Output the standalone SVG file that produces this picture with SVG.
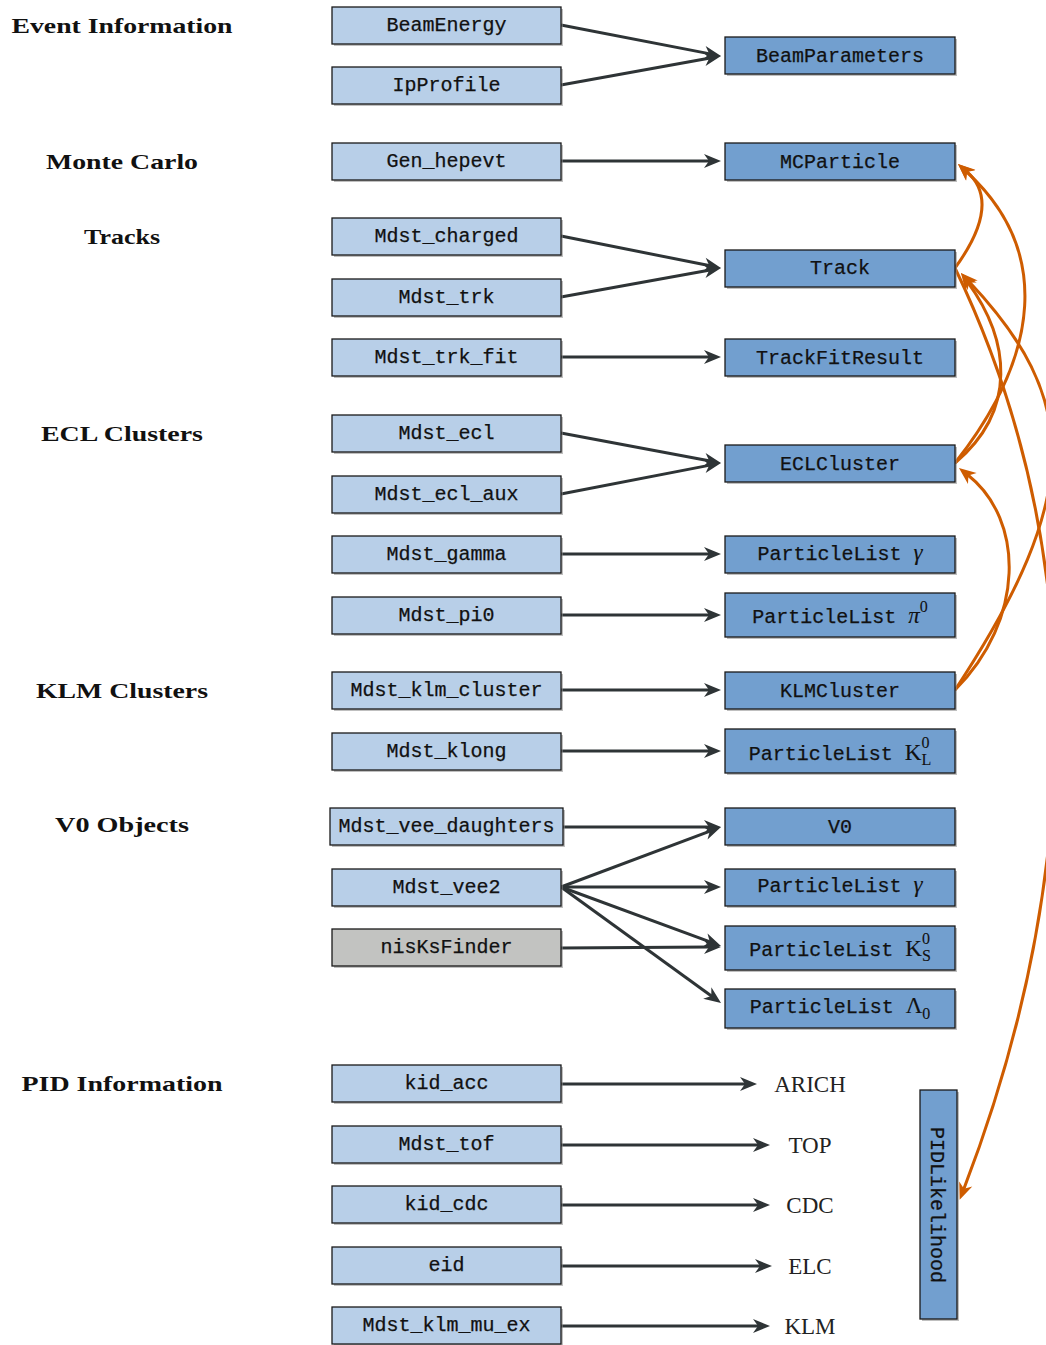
<svg xmlns="http://www.w3.org/2000/svg" width="1046" height="1345" viewBox="0 0 1046 1345">
<style>
.src{fill:#b8cfe8;stroke:#1a1a1a;stroke-width:1.3}
.dst{fill:#729fcf;stroke:#1a1a1a;stroke-width:1.3}
.alg{fill:#c2c3c1;stroke:#1a1a1a;stroke-width:1.3}
.sh{fill:#8a8a8a;opacity:0.55}
.t{font-family:"Liberation Mono","DejaVu Sans Mono",monospace;font-size:20px;fill:#111;text-anchor:middle;stroke:#111;stroke-width:0.25}
.m{font-family:"Liberation Serif",serif;stroke-width:0.1}
.mi{font-family:"Liberation Serif",serif;font-style:italic;stroke-width:0.1}
.lab{font-family:"Liberation Serif",serif;font-weight:bold;font-size:22px;fill:#111;text-anchor:middle}
.det{font-family:"Liberation Serif",serif;font-size:23px;fill:#222;text-anchor:middle}
.c{stroke:#2e3436;stroke-width:3;fill:none;marker-end:url(#ah)}
.o{stroke:#ce5c00;stroke-width:3;fill:none;marker-end:url(#oh)}
</style>
<defs>
<marker id="ah" markerUnits="userSpaceOnUse" markerWidth="20" markerHeight="16" viewBox="0 -8 18 16" refX="6" refY="0" orient="auto">
<path d="M0,-7 L17,0 L0,7 L5,0 z" fill="#2e3436"/>
</marker>
<marker id="oh" markerUnits="userSpaceOnUse" markerWidth="20" markerHeight="16" viewBox="0 -8 18 16" refX="6" refY="0" orient="auto">
<path d="M0,-7 L17,0 L0,7 L5,0 z" fill="#ce5c00"/>
</marker>
</defs>
<rect width="1046" height="1345" fill="#ffffff"/>

<g id="labels">
<text class="lab" x="122" y="33" textLength="221" lengthAdjust="spacingAndGlyphs">Event Information</text>
<text class="lab" x="122" y="169" textLength="152" lengthAdjust="spacingAndGlyphs">Monte Carlo</text>
<text class="lab" x="122" y="244" textLength="76" lengthAdjust="spacingAndGlyphs">Tracks</text>
<text class="lab" x="122" y="441" textLength="162" lengthAdjust="spacingAndGlyphs">ECL Clusters</text>
<text class="lab" x="122" y="698" textLength="172" lengthAdjust="spacingAndGlyphs">KLM Clusters</text>
<text class="lab" x="122" y="832" textLength="134" lengthAdjust="spacingAndGlyphs">V0 Objects</text>
<text class="lab" x="122" y="1091" textLength="201" lengthAdjust="spacingAndGlyphs">PID Information</text>
</g>

<g id="connectors">
<line class="c" x1="561" y1="25" x2="710.2" y2="53.9"/>
<line class="c" x1="561" y1="85" x2="710.2" y2="58"/>
<line class="c" x1="561" y1="161" x2="710" y2="161"/>
<line class="c" x1="561" y1="236" x2="710.2" y2="265.8"/>
<line class="c" x1="561" y1="297" x2="710.2" y2="270"/>
<line class="c" x1="561" y1="357" x2="710" y2="357"/>
<line class="c" x1="561" y1="433" x2="710.2" y2="461"/>
<line class="c" x1="561" y1="494" x2="710.2" y2="465.1"/>
<line class="c" x1="561" y1="554" x2="710" y2="554"/>
<line class="c" x1="561" y1="615" x2="710" y2="615"/>
<line class="c" x1="561" y1="690" x2="710" y2="690"/>
<line class="c" x1="561" y1="751" x2="710" y2="751"/>
<line class="c" x1="563" y1="827" x2="710" y2="827"/>
<line class="c" x1="561" y1="887" x2="710.7" y2="830.9"/>
<line class="c" x1="561" y1="887" x2="710" y2="887"/>
<line class="c" x1="561" y1="887" x2="710.7" y2="942.2"/>
<line class="c" x1="561" y1="887" x2="712.1" y2="996.5"/>
<line class="c" x1="561" y1="948" x2="710" y2="947"/>
<line class="c" x1="561" y1="1084" x2="746" y2="1084"/>
<line class="c" x1="561" y1="1145" x2="759" y2="1145"/>
<line class="c" x1="561" y1="1205" x2="759" y2="1205"/>
<line class="c" x1="561" y1="1266" x2="761" y2="1266"/>
<line class="c" x1="561" y1="1326" x2="759" y2="1326"/>
<path class="o" d="M955,268 C990,220 988,190 966.3,171.2"/>
<path class="o" d="M955,463 C1040,355 1052,250 966.1,171.4"/>
<path class="o" d="M955,463 C1018,410 1010,340 967.5,281.9"/>
<path class="o" d="M955,690 C1085,493 1079,398 968.5,281"/>
<path class="o" d="M955,690 C1025,620 1025,520 967.6,474.8"/>
<path class="o" d="M955,268 C1100,570 1075,900 963.6,1189.6"/>
</g>

<g id="BeamEnergy"><rect class="sh" x="334" y="9" width="229" height="37"/><rect class="src" x="332" y="7" width="229" height="37"/><text class="t" x="446.5" y="31">BeamEnergy</text></g>
<g id="IpProfile"><rect class="sh" x="334" y="69" width="229" height="37"/><rect class="src" x="332" y="67" width="229" height="37"/><text class="t" x="446.5" y="91">IpProfile</text></g>
<g id="Gen_hepevt"><rect class="sh" x="334" y="145" width="229" height="37"/><rect class="src" x="332" y="143" width="229" height="37"/><text class="t" x="446.5" y="167">Gen_hepevt</text></g>
<g id="Mdst_charged"><rect class="sh" x="334" y="220" width="229" height="37"/><rect class="src" x="332" y="218" width="229" height="37"/><text class="t" x="446.5" y="242">Mdst_charged</text></g>
<g id="Mdst_trk"><rect class="sh" x="334" y="281" width="229" height="37"/><rect class="src" x="332" y="279" width="229" height="37"/><text class="t" x="446.5" y="303">Mdst_trk</text></g>
<g id="Mdst_trk_fit"><rect class="sh" x="334" y="341" width="229" height="37"/><rect class="src" x="332" y="339" width="229" height="37"/><text class="t" x="446.5" y="363">Mdst_trk_fit</text></g>
<g id="Mdst_ecl"><rect class="sh" x="334" y="417" width="229" height="37"/><rect class="src" x="332" y="415" width="229" height="37"/><text class="t" x="446.5" y="439">Mdst_ecl</text></g>
<g id="Mdst_ecl_aux"><rect class="sh" x="334" y="478" width="229" height="37"/><rect class="src" x="332" y="476" width="229" height="37"/><text class="t" x="446.5" y="500">Mdst_ecl_aux</text></g>
<g id="Mdst_gamma"><rect class="sh" x="334" y="538" width="229" height="37"/><rect class="src" x="332" y="536" width="229" height="37"/><text class="t" x="446.5" y="560">Mdst_gamma</text></g>
<g id="Mdst_pi0"><rect class="sh" x="334" y="599" width="229" height="37"/><rect class="src" x="332" y="597" width="229" height="37"/><text class="t" x="446.5" y="621">Mdst_pi0</text></g>
<g id="Mdst_klm_cluster"><rect class="sh" x="334" y="674" width="229" height="37"/><rect class="src" x="332" y="672" width="229" height="37"/><text class="t" x="446.5" y="696">Mdst_klm_cluster</text></g>
<g id="Mdst_klong"><rect class="sh" x="334" y="735" width="229" height="37"/><rect class="src" x="332" y="733" width="229" height="37"/><text class="t" x="446.5" y="757">Mdst_klong</text></g>
<g id="Mdst_vee_daughters"><rect class="sh" x="332" y="810" width="233" height="37"/><rect class="src" x="330" y="808" width="233" height="37"/><text class="t" x="446.5" y="832">Mdst_vee_daughters</text></g>
<g id="Mdst_vee2"><rect class="sh" x="334" y="871" width="229" height="37"/><rect class="src" x="332" y="869" width="229" height="37"/><text class="t" x="446.5" y="893">Mdst_vee2</text></g>
<g id="nisKsFinder"><rect class="sh" x="334" y="931" width="229" height="37"/><rect class="alg" x="332" y="929" width="229" height="37"/><text class="t" x="446.5" y="953">nisKsFinder</text></g>
<g id="kid_acc"><rect class="sh" x="334" y="1067" width="229" height="37"/><rect class="src" x="332" y="1065" width="229" height="37"/><text class="t" x="446.5" y="1089">kid_acc</text></g>
<g id="Mdst_tof"><rect class="sh" x="334" y="1128" width="229" height="37"/><rect class="src" x="332" y="1126" width="229" height="37"/><text class="t" x="446.5" y="1150">Mdst_tof</text></g>
<g id="kid_cdc"><rect class="sh" x="334" y="1188" width="229" height="37"/><rect class="src" x="332" y="1186" width="229" height="37"/><text class="t" x="446.5" y="1210">kid_cdc</text></g>
<g id="eid"><rect class="sh" x="334" y="1249" width="229" height="37"/><rect class="src" x="332" y="1247" width="229" height="37"/><text class="t" x="446.5" y="1271">eid</text></g>
<g id="Mdst_klm_mu_ex"><rect class="sh" x="334" y="1309" width="229" height="37"/><rect class="src" x="332" y="1307" width="229" height="37"/><text class="t" x="446.5" y="1331">Mdst_klm_mu_ex</text></g>

<g id="BeamParameters"><rect class="sh" x="727" y="39" width="230" height="37"/><rect class="dst" x="725" y="37" width="230" height="37"/><text class="t" x="840" y="62">BeamParameters</text></g>
<g id="MCParticle"><rect class="sh" x="727" y="145" width="230" height="37"/><rect class="dst" x="725" y="143" width="230" height="37"/><text class="t" x="840" y="168">MCParticle</text></g>
<g id="Track"><rect class="sh" x="727" y="252" width="230" height="37"/><rect class="dst" x="725" y="250" width="230" height="37"/><text class="t" x="840" y="274">Track</text></g>
<g id="TrackFitResult"><rect class="sh" x="727" y="341" width="230" height="37"/><rect class="dst" x="725" y="339" width="230" height="37"/><text class="t" x="840" y="364">TrackFitResult</text></g>
<g id="ECLCluster"><rect class="sh" x="727" y="447" width="230" height="37"/><rect class="dst" x="725" y="445" width="230" height="37"/><text class="t" x="840" y="470">ECLCluster</text></g>
<g id="ParticleList_gamma"><rect class="sh" x="727" y="538" width="230" height="37"/><rect class="dst" x="725" y="536" width="230" height="37"/><text class="t" x="840" y="560">ParticleList <tspan class="mi" font-size="23">γ</tspan></text></g>
<g id="ParticleList_pi0"><rect class="sh" x="727" y="595" width="230" height="44"/><rect class="dst" x="725" y="593" width="230" height="44"/><text class="t" x="840" y="623">ParticleList <tspan class="mi" font-size="23">π</tspan><tspan class="m" font-size="16" dy="-11">0</tspan></text></g>
<g id="KLMCluster"><rect class="sh" x="727" y="674" width="230" height="37"/><rect class="dst" x="725" y="672" width="230" height="37"/><text class="t" x="840" y="697">KLMCluster</text></g>
<g id="ParticleList_K0L"><rect class="sh" x="727" y="731" width="230" height="44"/><rect class="dst" x="725" y="729" width="230" height="44"/><text class="t" x="840" y="760">ParticleList <tspan class="m" font-size="23">K</tspan><tspan class="m" font-size="16" dy="-12">0</tspan><tspan class="m" font-size="16" dx="-8" dy="17">L</tspan></text></g>
<g id="V0"><rect class="sh" x="727" y="810" width="230" height="37"/><rect class="dst" x="725" y="808" width="230" height="37"/><text class="t" x="840" y="833">V0</text></g>
<g id="ParticleList_gamma_v0"><rect class="sh" x="727" y="871" width="230" height="37"/><rect class="dst" x="725" y="869" width="230" height="37"/><text class="t" x="840" y="892">ParticleList <tspan class="mi" font-size="23">γ</tspan></text></g>
<g id="ParticleList_K0S"><rect class="sh" x="727" y="928" width="230" height="44"/><rect class="dst" x="725" y="926" width="230" height="44"/><text class="t" x="840" y="956">ParticleList <tspan class="m" font-size="23">K</tspan><tspan class="m" font-size="16" dy="-12">0</tspan><tspan class="m" font-size="16" dx="-8" dy="17">S</tspan></text></g>
<g id="ParticleList_Lambda0"><rect class="sh" x="727" y="991" width="230" height="39"/><rect class="dst" x="725" y="989" width="230" height="39"/><text class="t" x="840" y="1013">ParticleList <tspan class="m" font-size="23">Λ</tspan><tspan class="m" font-size="16" dy="6">0</tspan></text></g>

<g id="ARICH"><text class="det" x="810" y="1092">ARICH</text></g>
<g id="TOP"><text class="det" x="810" y="1153">TOP</text></g>
<g id="CDC"><text class="det" x="810" y="1213">CDC</text></g>
<g id="ELC"><text class="det" x="810" y="1274">ELC</text></g>
<g id="KLM"><text class="det" x="810" y="1334">KLM</text></g>

<g id="PIDLikelihood"><rect class="sh" x="922" y="1092" width="37" height="229"/><rect class="dst" x="920" y="1090" width="37" height="229"/><text class="t" transform="translate(931,1205) rotate(90)" x="0" y="0">PIDLikelihood</text></g>
</svg>
